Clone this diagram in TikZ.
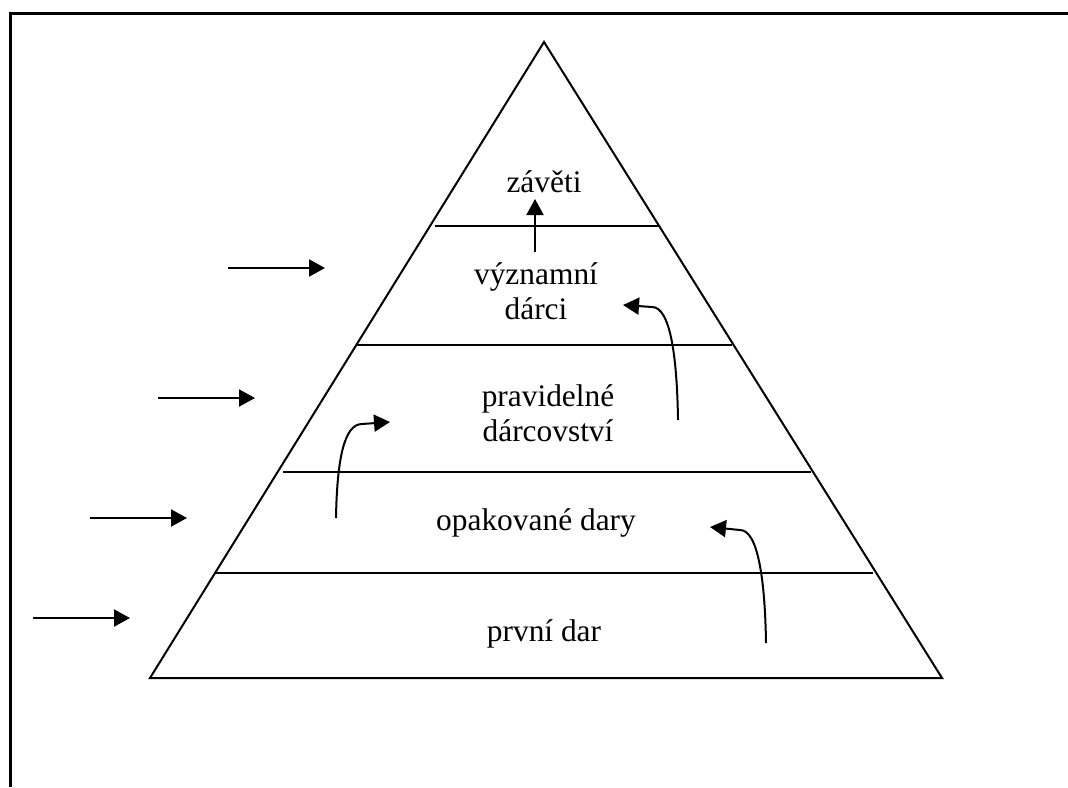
\documentclass[tikz,border=0pt]{standalone}
\usepackage{fontspec}
\setmainfont{Liberation Serif}
\usetikzlibrary{arrows.meta}

\begin{document}
\begin{tikzpicture}[x=0.5pt,y=-0.5pt, line width=1pt,
	>={Triangle[length=8pt,width=8.5pt]},
	label text/.style={font=\fontsize{15.7}{17.5}\selectfont, align=center, inner sep=0pt}]
	\useasboundingbox (0,0) rectangle (1068,787);
	% frame
	\coordinate (frameB) at (10,787);
	\coordinate (frameC) at (10,13);
	\coordinate (frameR) at (1068,13);
	\draw[line width=1.5pt] (frameB) -- (frameC) -- (frameR);
	
	% pyramid
	\coordinate (top) at (544,42);
	\coordinate (baseL) at (150,678);
	\coordinate (baseR) at (942,678);
	\draw (top) -- (baseL) -- (baseR) -- cycle;
	\foreach \a/\b/\y [count=\i] in {435/660/226, 356/732/345, 283/811/472, 215/873/573} {
		\coordinate (lvl\i L) at (\a,\y);
		\coordinate (lvl\i R) at (\b,\y);
		\draw (lvl\i L) -- (lvl\i R);
	}
	
	% texts
	\node[label text, anchor=base] (zaveti) at (544,192) {závěti};
	\node[label text] (vyznamni) at (536,291) {významní\\dárci};
	\node[label text] (pravidelne) at (548,413) {pravidelné\\dárcovství};
	\node[label text, anchor=base] (opakovane) at (536,530) {opakované dary};
	\node[label text, anchor=base] (prvni) at (544,641) {první dar};
	
	% arrows from outside
	\foreach \x/\y [count=\i] in {228/268, 158/398, 90/518, 33/618} {
		\coordinate (in\i) at (\x,\y);
		\coordinate (in\i e) at (\x+97,\y);
		\draw[->] (in\i) -- (in\i e);
	}
	
	% arrows between levels
	\coordinate (upS) at (535,252);
	\coordinate (upE) at (535,199);
	\draw[->] (upS) -- (upE);
	
	\coordinate (c1S) at (336,518);
	\coordinate (c1M) at (362,424);
	\coordinate (c1E) at (390,422);
	\draw[->] (c1S) .. controls (337,460) and (344,424) .. (c1M) -- (c1E);
	
	\coordinate (c2S) at (678,420);
	\coordinate (c2M) at (652,307);
	\coordinate (c2E) at (623,305);
	\draw[->] (c2S) .. controls (677,355) and (670,307) .. (c2M) -- (c2E);
	
	\coordinate (c3S) at (766,643);
	\coordinate (c3M) at (740,530);
	\coordinate (c3E) at (710,527);
	\draw[->] (c3S) .. controls (765,580) and (758,530) .. (c3M) -- (c3E);
\end{tikzpicture}
\end{document}
